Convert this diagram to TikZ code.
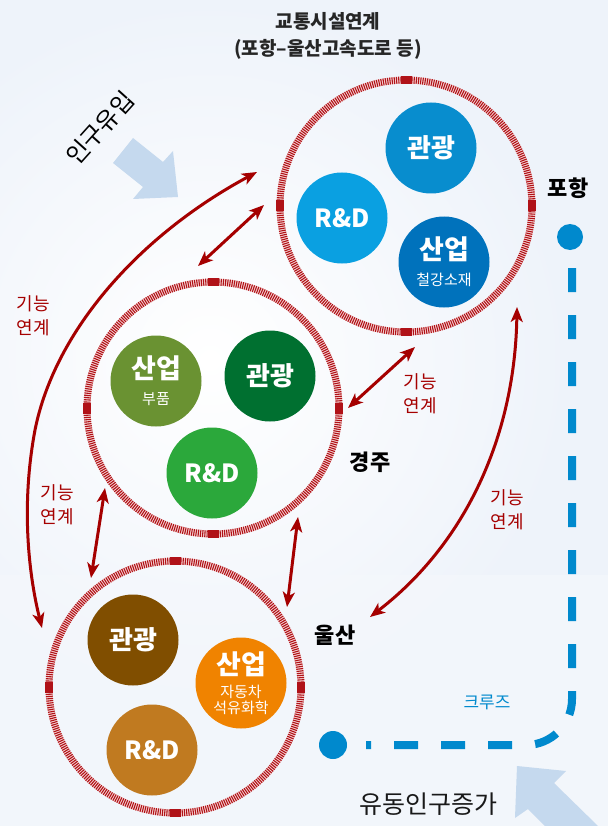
\documentclass[tikz,border=0pt]{standalone}
\usepackage{fontspec}
\setmainfont{Noto Sans CJK KR}
\usetikzlibrary{arrows.meta}
\definecolor{ringred}{RGB}{176,18,24}
\definecolor{ringpink}{RGB}{246,214,214}
\definecolor{arrred}{RGB}{165,0,0}
\definecolor{bgc}{RGB}{238,243,250}
\definecolor{lightarrow}{RGB}{197,217,238}
\definecolor{cruise}{RGB}{0,137,205}
\definecolor{pA}{RGB}{8,141,206}
\definecolor{pB}{RGB}{10,160,225}
\definecolor{pC}{RGB}{0,114,188}
\definecolor{gA}{RGB}{106,146,50}
\definecolor{gB}{RGB}{0,112,48}
\definecolor{gC}{RGB}{43,168,59}
\definecolor{uA}{RGB}{128,78,0}
\definecolor{uB}{RGB}{240,131,0}
\definecolor{uC}{RGB}{192,122,32}
\begin{document}
\begin{tikzpicture}[x=1pt,y=-1pt,
  ring/.style={circle, draw=ringred, line width=7pt, dash pattern=on 1.1pt off 1.1pt,
    minimum size=252pt, inner sep=0pt, outer sep=0pt,
    preaction={draw=ringpink, solid, line width=7pt}},
  markh/.style={fill=ringred, minimum width=11pt, minimum height=8pt, inner sep=0pt},
  markv/.style={fill=ringred, minimum width=8pt, minimum height=11pt, inner sep=0pt},
  bub/.style={circle, minimum size=91pt, inner sep=0pt, text=white, align=center},
  bigw/.style={font=\fontsize{26}{28}\selectfont\bfseries},
  rd/.style={font=\fontsize{25}{27}\selectfont\bfseries},
  ind/.style={font=\fontsize{15}{17}\selectfont},
  city/.style={font=\fontsize{22}{24}\selectfont\bfseries, text=black},
  lbl/.style={font=\fontsize{18}{24}\selectfont, text=arrred, align=center},
  conn/.style={draw=arrred, line width=3pt, {Stealth[length=15pt,width=12pt,inset=4pt]}-{Stealth[length=15pt,width=12pt,inset=4pt]}},
  cdot/.style={circle, fill=cruise, inner sep=0pt}
]
\useasboundingbox (0,0) rectangle (608,826);
% background
\fill[bgc] (0,0) rectangle (608,826);
\begin{scope}
\clip (0,0) rectangle (608,826);
\shade[inner color=white, outer color=bgc] (210,360) circle (360);
\fill[bgc!60!white, opacity=0.6] (0,575) rectangle (608,826);
\end{scope}

% title
\node[font=\fontsize{19}{22}\selectfont\bfseries, text=black!85] (title1) at (328,21) {교통시설연계};
\node[font=\fontsize{19}{22}\selectfont\bfseries, text=black!85] (title2) at (328,49) {(포항–울산고속도로 등)};

% light blue arrows
\fill[lightarrow] (113,163) -- (133,138) -- (163,162) -- (173,151) -- (178,197) -- (133,199) -- (143,187) -- cycle;
\fill[lightarrow] (517,766) -- (566,771) -- (554,783) -- (598,826) -- (545,826) -- (528,809) -- (515,818) -- cycle;
\node[rotate=48, font=\fontsize{24}{26}\selectfont, text=black] (inflow) at (100,128) {인구유입};
\node[font=\fontsize{25}{27}\selectfont, text=black!90] (flow) at (428,804) {유동인구증가};

% rings
\node[ring] (pohang) at (406,206) {};
\node[ring] (gyeongju) at (213,408) {};
\node[ring] (ulsan) at (175,687) {};
\foreach \r in {pohang,gyeongju,ulsan}{
  \node[markh] at (\r.north) {};
  \node[markh] at (\r.south) {};
  \node[markv] at (\r.east) {};
  \node[markv] at (\r.west) {};
}

% Pohang bubbles
\node[bub, fill=pA, bigw] (pTour) at (431,148) {관광};
\node[bub, fill=pB, rd] (pRD) at (342,218) {R\&D};
\node[bub, fill=pC, ind] (pInd) at (444,262) {{\fontsize{27}{29}\selectfont\bfseries 산업}\\[9pt] 철강소재};
% Gyeongju bubbles
\node[bub, fill=gA, ind] (gInd) at (156,381) {{\fontsize{27}{29}\selectfont\bfseries 산업}\\[9pt] 부품};
\node[bub, fill=gB, bigw] (gTour) at (270,376) {관광};
\node[bub, fill=gC, rd] (gRD) at (212,473) {R\&D};
% Ulsan bubbles
\node[bub, fill=uA, bigw] (uTour) at (133,640) {관광};
\node[bub, fill=uB, ind] (uInd) at (241,683) {{\fontsize{27}{29}\selectfont\bfseries 산업}\\[6pt] 자동차\\[-1pt] 석유화학};
\node[bub, fill=uC, rd] (uRD) at (152,750) {R\&D};

% city labels
\node[city] (lp) at (568,188) {포항};
\node[city] (lg) at (370,462) {경주};
\node[city] (lu) at (335,635) {울산};

% red connectors
\coordinate (a1s) at (198,266); \coordinate (a1e) at (264,205);
\coordinate (a2s) at (257,172); \coordinate (a2m) at (35,430); \coordinate (a2e) at (42,628);
\coordinate (a3s) at (105,488); \coordinate (a3e) at (91,578);
\coordinate (a4s) at (298,517); \coordinate (a4e) at (287,607);
\coordinate (a5s) at (348,408); \coordinate (a5e) at (415,347);
\coordinate (a6s) at (517,307); \coordinate (a6e) at (370,617);
\draw[conn] (a1s) -- (a1e);
\draw[conn] (a2s) .. controls (140,235) and (55,330) .. (a2m) .. controls (20,510) and (30,580) .. (a2e);
\draw[conn] (a3s) -- (a3e);
\draw[conn] (a4s) -- (a4e);
\draw[conn] (a5s) -- (a5e);
\draw[conn] (a6s) .. controls (515,430) and (470,540) .. (a6e);

\node[lbl] (l1) at (33,316) {기능\\연계};
\node[lbl] (l2) at (57,505) {기능\\연계};
\node[lbl] (l3) at (420,394) {기능\\연계};
\node[lbl] (l4) at (507,510) {기능\\연계};

% cruise
\node[cdot, minimum size=26pt] (dotP) at (570,237) {};
\node[cdot, minimum size=28pt] (dotU) at (333,745) {};
\coordinate (cr1) at (572,268);
\coordinate (cr2) at (572,745);
\coordinate (cr3) at (366,745);
\draw[cruise, line width=8pt, dash pattern=on 24pt off 23pt, rounded corners=46pt] (cr1) -- (cr2) -- (cr3);
\node[font=\fontsize{17}{19}\selectfont, text=cruise] (cruiselbl) at (487,702) {크루즈};
\end{tikzpicture}
\end{document}
